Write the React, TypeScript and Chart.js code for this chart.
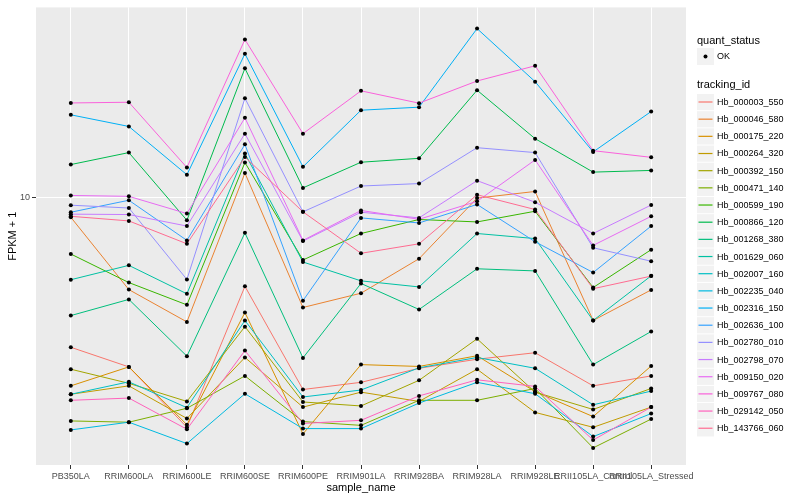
import React, { useEffect, useRef } from "react";
import { Chart, registerables } from "chart.js";

Chart.register(...registerables);

const samples = [
  "PB350LA",
  "RRIM600LA",
  "RRIM600LE",
  "RRIM600SE",
  "RRIM600PE",
  "RRIM901LA",
  "RRIM928BA",
  "RRIM928LA",
  "RRIM928LE",
  "RRII105LA_Control",
  "RRII105LA_Stressed",
];

const trackingIds = [
  "Hb_000003_550",
  "Hb_000046_580",
  "Hb_000175_220",
  "Hb_000264_320",
  "Hb_000392_150",
  "Hb_000471_140",
  "Hb_000599_190",
  "Hb_000866_120",
  "Hb_001268_380",
  "Hb_001629_060",
  "Hb_002007_160",
  "Hb_002235_040",
  "Hb_002316_150",
  "Hb_002636_100",
  "Hb_002780_010",
  "Hb_002798_070",
  "Hb_009150_020",
  "Hb_009767_080",
  "Hb_029142_050",
  "Hb_143766_060",
];

const lineColors = [
  "#F8766D", "#EA8331", "#D89000", "#C09B00", "#A3A500",
  "#7CAE00", "#39B600", "#00BB4E", "#00BF7D", "#00C1A3",
  "#00BFC4", "#00BAE0", "#00B0F6", "#35A2FF", "#9590FF",
  "#C77CFF", "#E76BF3", "#FA62DB", "#FF62BC", "#FF6C91",
];

// FPKM + 1 per sample (same order as `samples`)
const hb000003_550 = [4.30, 3.85, 2.74, 6.06, 3.39, 3.53, 3.82, 4.02, 4.17, 3.46, 3.66];
const hb000046_580 = [8.94, 5.95, 4.96, 11.47, 5.38, 5.83, 7.08, 9.96, 10.34, 5.00, 5.94];
const hb000175_220 = [3.46, 3.85, 2.78, 5.23, 2.64, 3.90, 3.86, 4.10, 3.35, 2.91, 3.87];
const hb000264_320 = [3.30, 3.46, 2.88, 4.06, 3.07, 3.34, 3.17, 3.80, 2.98, 2.74, 3.07];
const hb000392_150 = [3.80, 3.51, 3.17, 4.83, 3.16, 3.09, 3.57, 4.51, 3.34, 3.03, 3.41];
const hb000471_140 = [2.84, 2.82, 3.05, 3.66, 2.83, 2.77, 3.19, 3.19, 3.41, 2.44, 2.87];
const hb000599_190 = [7.27, 6.19, 5.46, 12.17, 7.03, 8.16, 8.83, 8.71, 9.25, 6.02, 7.45];
const hb000866_120 = [12.03, 12.87, 8.79, 20.68, 10.55, 12.19, 12.46, 18.29, 13.92, 11.53, 11.64];
const hb001268_380 = [5.14, 5.63, 4.09, 8.19, 4.05, 6.16, 5.32, 6.69, 6.61, 3.90, 4.70];
const hb001629_060 = [6.29, 6.82, 5.81, 12.80, 6.95, 6.25, 6.04, 8.16, 7.93, 5.00, 6.43];
const hb002007_160 = [3.30, 3.54, 3.06, 5.00, 3.25, 3.38, 3.83, 4.06, 3.82, 3.11, 3.36];
const hb002235_040 = [2.70, 2.82, 2.50, 3.31, 2.72, 2.72, 3.14, 3.53, 3.31, 2.60, 2.96];
const hb002316_150 = [15.92, 14.91, 11.36, 22.45, 11.88, 16.34, 16.62, 25.87, 19.19, 12.92, 16.22];
const hb002636_100 = [9.20, 9.84, 7.85, 13.48, 5.59, 8.91, 8.66, 9.61, 7.79, 6.55, 8.51];
const hb002780_010 = [9.57, 9.42, 6.30, 17.48, 9.22, 10.66, 10.81, 13.23, 12.87, 7.53, 6.98];
const hb002798_070 = [9.10, 9.08, 8.51, 14.32, 7.82, 9.20, 8.91, 10.99, 9.73, 8.16, 9.58];
const hb009150_020 = [10.11, 10.06, 9.13, 15.65, 7.85, 9.29, 8.84, 9.78, 12.35, 7.63, 8.99];
const hb009767_080 = [17.02, 17.09, 11.83, 24.33, 14.32, 18.22, 17.00, 19.26, 20.98, 13.01, 12.53];
const hb029142_050 = [3.19, 3.23, 2.71, 4.22, 2.80, 2.85, 3.27, 3.58, 3.45, 2.55, 3.07];
const hb143766_060 = [8.99, 8.76, 7.70, 12.55, 9.22, 7.30, 7.70, 10.15, 9.34, 5.98, 6.42];

const seriesValues = [
  hb000003_550, hb000046_580, hb000175_220, hb000264_320, hb000392_150,
  hb000471_140, hb000599_190, hb000866_120, hb001268_380, hb001629_060,
  hb002007_160, hb002235_040, hb002316_150, hb002636_100, hb002780_010,
  hb002798_070, hb009150_020, hb009767_080, hb029142_050, hb143766_060,
];

const yTicks = [10];
const yMin = 2.216;
const yMax = 29.15;

const FONT = '"Liberation Sans", Arial, Helvetica, sans-serif';

const panelBg = {
  id: "panelBg",
  beforeDraw(chart: any) {
    const { ctx, chartArea } = chart;
    ctx.save();
    ctx.fillStyle = "#EBEBEB";
    ctx.fillRect(chartArea.left, chartArea.top, chartArea.right - chartArea.left, chartArea.bottom - chartArea.top);
    ctx.restore();
  },
};

const ggLegend = {
  id: "ggLegend",
  afterDraw(chart: any) {
    const { ctx } = chart;
    const x0 = 697;
    ctx.save();
    ctx.textBaseline = "middle";
    ctx.textAlign = "left";
    ctx.fillStyle = "#000";
    ctx.font = `11px ${FONT}`;
    ctx.fillText("quant_status", x0, 41);
    ctx.fillStyle = "#F2F2F2";
    ctx.fillRect(x0, 48, 17, 17);
    ctx.fillStyle = "#000";
    ctx.beginPath();
    ctx.arc(x0 + 8.5, 56.5, 2, 0, Math.PI * 2);
    ctx.fill();
    ctx.font = `9px ${FONT}`;
    ctx.fillText("OK", x0 + 20, 57);

    ctx.font = `11px ${FONT}`;
    ctx.fillText("tracking_id", x0, 85);
    const step = 17.17;
    trackingIds.forEach((id, i) => {
      const cy = 102 + i * step;
      ctx.fillStyle = "#F2F2F2";
      ctx.fillRect(x0, cy - 8, 17, 16.2);
      ctx.strokeStyle = lineColors[i];
      ctx.lineWidth = 1.2;
      ctx.beginPath();
      ctx.moveTo(x0 + 1.5, cy);
      ctx.lineTo(x0 + 15.5, cy);
      ctx.stroke();
      ctx.fillStyle = "#000";
      ctx.font = `9px ${FONT}`;
      ctx.fillText(id, x0 + 20, cy + 0.5);
    });
    ctx.restore();
  },
};

export default function App() {
  const ref = useRef<HTMLCanvasElement>(null);

  useEffect(() => {
    if (!ref.current) return;
    const lineSets = seriesValues.map((vals, k) => ({
      type: "line" as const,
      label: trackingIds[k],
      data: vals.map((v, i) => ({ x: i, y: v })),
      borderColor: lineColors[k],
      backgroundColor: lineColors[k],
      borderWidth: 1,
      pointRadius: 0,
      tension: 0,
      fill: false,
      order: 100 - k,
    }));
    const pointSet = {
      type: "scatter" as const,
      label: "OK",
      data: seriesValues.flatMap((vals) => vals.map((v, i) => ({ x: i, y: v }))),
      showLine: false,
      pointRadius: 2,
      pointBackgroundColor: "#000",
      pointBorderWidth: 0,
      borderColor: "#000",
      backgroundColor: "#000",
      order: -1,
    };
    const chart = new Chart(ref.current, {
      type: "line",
      data: { datasets: [pointSet as any, ...lineSets] },
      options: {
        responsive: false,
        animation: false,
        layout: { padding: { left: 0, right: 114, top: 5, bottom: 0 } },
        plugins: {
          legend: { display: false },
          tooltip: { enabled: false },
        },
        scales: {
          x: {
            type: "linear",
            min: -0.6,
            max: samples.length - 1 + 0.6,
            afterBuildTicks: (scale: any) => {
              scale.ticks = samples.map((_, i) => ({ value: i }));
            },
            afterFit: (scale: any) => {
              scale.height = 35;
            },
            ticks: {
              autoSkip: false,
              maxRotation: 0,
              minRotation: 0,
              padding: 2,
              color: "#4D4D4D",
              font: { family: FONT, size: 9 },
              callback: (v: any) => samples[v as number] ?? "",
            },
            grid: {
              color: "#FFFFFF",
              lineWidth: 1,
              drawTicks: true,
              tickLength: 4,
              tickColor: "#333333",
            },
            border: { display: false },
            title: {
              display: true,
              text: "sample_name",
              color: "#000",
              font: { family: FONT, size: 11 },
              padding: { top: 0, bottom: 5 },
            },
          },
          y: {
            type: "logarithmic",
            min: yMin,
            max: yMax,
            afterBuildTicks: (scale: any) => {
              scale.ticks = yTicks.map((v) => ({ value: v }));
            },
            afterFit: (scale: any) => {
              scale.width = 36;
            },
            ticks: {
              padding: 2,
              color: "#4D4D4D",
              font: { family: FONT, size: 9 },
              callback: (v: any) => String(v),
            },
            grid: {
              color: "#FFFFFF",
              lineWidth: 1,
              drawTicks: true,
              tickLength: 4,
              tickColor: "#333333",
            },
            border: { display: false },
            title: {
              display: true,
              text: "FPKM + 1",
              color: "#000",
              font: { family: FONT, size: 11 },
              padding: { top: 6, bottom: 0 },
            },
          },
        },
      },
      plugins: [panelBg, ggLegend],
    } as any);
    return () => chart.destroy();
  }, []);

  return (
    <div style={{ position: "absolute", left: 0, top: 0, width: 800, height: 500, background: "#fff" }}>
      <canvas ref={ref} width={800} height={500} style={{ display: "block" }} />
    </div>
  );
}
